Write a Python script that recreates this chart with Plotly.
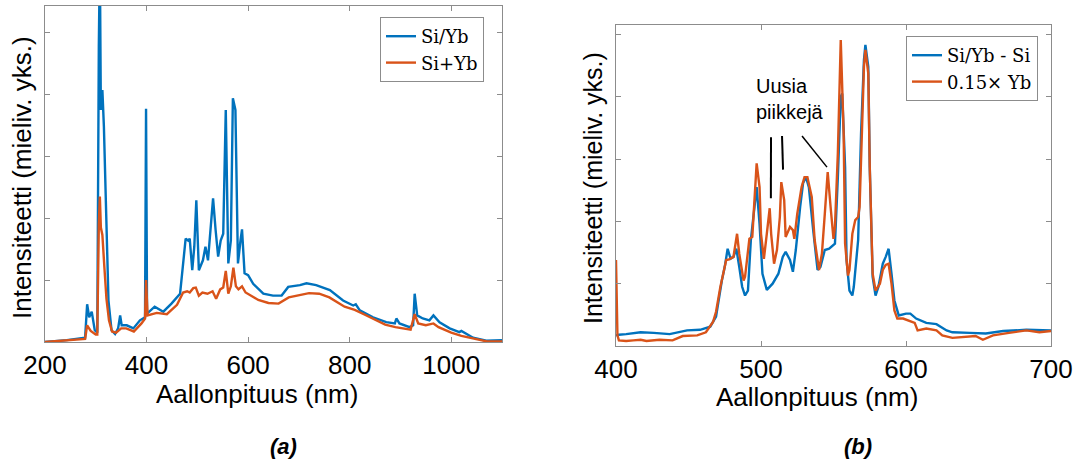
import plotly.graph_objects as go

# ---------------- Panel (a) data ----------------
a_blue_x = [200, 243, 279, 283, 287, 292, 298, 303, 306, 308, 310, 313, 316, 320, 325, 331, 338, 344, 348, 351,
            361, 374, 387, 397, 399, 401, 416, 433, 449, 466, 472, 477, 482, 485, 490, 494, 498, 503, 511, 516,
            521, 526, 531, 536, 541, 546, 551, 556, 561, 566, 570, 575, 580, 585, 588, 593, 600, 610, 630, 649,
            666, 679, 702, 715, 734, 761, 787, 807, 812, 820, 846, 872, 889, 892, 898, 918, 925, 928, 933, 944,
            957, 965, 977, 997, 1016, 1020, 1043, 1069, 1089, 1100]
a_blue_y = [0.0, 0.03, 0.07, 0.61, 0.40, 0.49, 0.19, 0.15, 4.77, 6.2, 3.75, 4.07, 3.48, 2.02, 0.67, 0.19, 0.13, 0.22, 0.43, 0.27,
            0.27, 0.22, 0.35, 0.40, 3.77, 0.46, 0.57, 0.49, 0.62, 0.78, 1.27, 1.67, 1.64, 1.67, 1.16, 1.54, 2.29, 1.16, 1.32, 1.54,
            1.32, 1.86, 2.32, 1.81, 1.38, 1.64, 1.75, 3.75, 1.27, 1.64, 3.94, 3.75, 1.27, 1.64, 1.82, 1.11, 1.08, 0.94, 0.78, 0.75,
            0.75, 0.89, 0.92, 0.95, 0.92, 0.84, 0.67, 0.59, 0.61, 0.51, 0.40, 0.32, 0.30, 0.38, 0.30, 0.24, 0.27, 0.78, 0.43, 0.38,
            0.35, 0.43, 0.32, 0.22, 0.16, 0.18, 0.07, 0.02, 0.02, 0.03]

a_orange_x = [200, 243, 279, 283, 290, 300, 303, 306, 308, 310, 313, 317, 321, 326, 332, 340, 350, 360, 375, 390,
              397, 399, 402, 420, 440, 460, 472, 480, 485, 492, 497, 503, 510, 520, 530, 537, 545, 551, 556, 561,
              566, 571, 576, 581, 588, 595, 605, 620, 640, 660, 680, 700, 720, 740, 760, 790, 810, 830, 850, 870,
              890, 920, 928, 935, 950, 965, 975, 1000, 1020, 1045, 1070, 1100]
a_orange_y = [0.0, 0.03, 0.05, 0.27, 0.18, 0.12, 0.12, 1.90, 2.35, 1.85, 1.73, 1.20, 0.70, 0.35, 0.17, 0.15, 0.22, 0.22, 0.17, 0.30,
              0.38, 1.00, 0.43, 0.47, 0.45, 0.60, 0.80, 0.82, 0.80, 0.87, 0.88, 0.75, 0.80, 0.78, 0.82, 0.70, 0.85, 0.88, 1.15, 0.78,
              0.90, 1.20, 0.90, 0.85, 0.90, 0.80, 0.75, 0.68, 0.63, 0.62, 0.72, 0.75, 0.79, 0.78, 0.72, 0.57, 0.52, 0.44, 0.36, 0.28,
              0.24, 0.20, 0.45, 0.30, 0.27, 0.30, 0.24, 0.15, 0.10, 0.05, 0.01, 0.01]

# ---------------- Panel (b) data ----------------
b_blue_x = [400, 402, 407, 417, 426, 437, 449, 458, 465, 469, 473, 475, 477, 479, 481, 483, 485, 487, 489, 491,
            493, 496, 497, 499, 501, 504, 508, 512, 515, 517, 520, 522, 524, 527, 529, 531, 533, 536, 539, 541,
            544, 547, 551, 553, 555, 556, 558, 559, 561, 563, 564, 567, 569, 571, 572, 574, 575, 577, 579, 581,
            584, 586, 588, 590, 592, 595, 600, 603, 607, 614, 621, 628, 632, 644, 655, 667, 683, 700]
b_blue_y = [0.17, 0.18, 0.19, 0.22, 0.21, 0.19, 0.25, 0.26, 0.31, 0.47, 1.05, 1.27, 1.56, 1.40, 1.43, 1.56, 1.27, 0.95, 0.81, 0.89,
            1.70, 2.34, 2.55, 1.96, 1.16, 0.90, 1.00, 1.16, 1.43, 1.51, 1.38, 1.19, 1.54, 2.23, 2.61, 2.71, 2.55, 1.86, 1.22, 1.27,
            1.54, 1.56, 1.64, 2.71, 4.00, 4.05, 2.87, 1.38, 0.89, 0.81, 0.95, 1.70, 3.41, 4.59, 4.83, 4.48, 2.87, 1.11, 0.81, 0.95,
            1.32, 1.43, 1.56, 1.16, 0.73, 0.49, 0.52, 0.52, 0.44, 0.37, 0.35, 0.25, 0.22, 0.21, 0.20, 0.24, 0.26, 0.25]

b_orange_x = [400, 401, 402, 407, 412, 417, 421, 430, 439, 446, 456, 462, 467, 469, 472, 474, 476, 478, 481, 483.5,
              485, 488, 489, 492, 494, 497, 499, 500, 502, 504, 506, 507, 509, 511, 513, 514, 516, 517, 520, 522,
              523, 525, 528, 530, 532, 535, 537, 540, 542, 544, 546, 548, 550, 551, 553, 555, 557, 558, 560, 561,
              563, 565, 567, 568, 570, 571, 572, 574, 575, 577, 579, 582, 584, 586, 588, 590, 592, 594, 598, 602,
              606, 608, 614, 621, 625, 632, 639, 648, 653, 660, 671, 683, 692, 700]
b_orange_y = [1.38, 0.17, 0.09, 0.08, 0.09, 0.10, 0.08, 0.10, 0.09, 0.16, 0.17, 0.22, 0.39, 0.55, 0.95, 1.16, 1.38, 1.39, 1.43, 1.80,
              1.48, 1.05, 1.11, 1.72, 1.75, 2.93, 2.55, 1.80, 1.40, 1.80, 2.21, 1.80, 1.32, 1.54, 2.07, 2.63, 2.34, 1.75, 1.91, 1.86,
              1.72, 2.12, 2.55, 2.71, 2.71, 2.39, 1.70, 1.22, 1.48, 2.12, 2.79, 2.23, 1.72, 1.91, 3.09, 4.91, 3.41, 1.64, 1.13, 1.22,
              1.80, 2.02, 2.07, 2.23, 3.52, 4.48, 4.75, 4.37, 2.87, 1.16, 0.89, 1.00, 1.22, 1.30, 1.32, 1.00, 0.57, 0.44, 0.44, 0.41,
              0.37, 0.25, 0.28, 0.25, 0.17, 0.13, 0.14, 0.16, 0.10, 0.17, 0.21, 0.25, 0.22, 0.24]

a_ticks = [200, 400, 600, 800, 1000]
b_ticks = [400, 500, 600, 700]
y_ticks = [0, 1, 2, 3, 4, 5]

BLUE = "#0072BD"
ORANGE = "#D95319"
W, H = 1073, 466

fig = go.Figure()
fig.add_trace(go.Scatter(x=a_blue_x, y=a_blue_y, mode="lines", name="Si/Yb",
                         line=dict(color=BLUE, width=2.4), xaxis="x", yaxis="y", legend="legend"))
fig.add_trace(go.Scatter(x=a_orange_x, y=a_orange_y, mode="lines", name="Si+Yb",
                         line=dict(color=ORANGE, width=2.4), xaxis="x", yaxis="y", legend="legend"))
fig.add_trace(go.Scatter(x=b_blue_x, y=b_blue_y, mode="lines", name="Si/Yb - Si",
                         line=dict(color=BLUE, width=2.4), xaxis="x2", yaxis="y2", legend="legend2"))
fig.add_trace(go.Scatter(x=b_orange_x, y=b_orange_y, mode="lines", name="0.15× Yb",
                         line=dict(color=ORANGE, width=2.4), xaxis="x2", yaxis="y2", legend="legend2"))

def px(v):
    return v / W

def py(v):
    return 1 - v / H

axis_common = dict(showgrid=False, zeroline=False, showline=True, linecolor="#8c8c8c", linewidth=1,
                   mirror="ticks", ticks="inside", ticklen=5, tickcolor="#8c8c8c", automargin=False,
                   tickfont=dict(family="Liberation Sans, Arial", size=26, color="black"))

legend_font = dict(family="DejaVu Serif, Liberation Serif", size=18, color="black")

fig.update_layout(
    template="none",
    width=W, height=H, margin=dict(l=0, r=0, t=0, b=0, pad=0, autoexpand=False),
    paper_bgcolor="white", plot_bgcolor="white",
    xaxis=dict(domain=[px(45), px(502)], range=[200, 1100], tickvals=a_ticks, anchor="y", **axis_common),
    yaxis=dict(domain=[py(342), py(6)], range=[0, 5.43], tickvals=y_ticks, showticklabels=False,
               anchor="x", **axis_common),
    xaxis2=dict(domain=[px(616), px(1051)], range=[400, 700], tickvals=b_ticks, anchor="y2", **axis_common),
    yaxis2=dict(domain=[py(346), py(25)], range=[0, 5.15], tickvals=y_ticks, showticklabels=False,
                anchor="x2", **axis_common),
    legend=dict(x=px(380), y=py(17), xanchor="left", yanchor="top", bgcolor="white",
                bordercolor="#8c8c8c", borderwidth=1, tracegroupgap=0, font=legend_font),
    legend2=dict(x=px(906), y=py(36), xanchor="left", yanchor="top", bgcolor="white",
                 bordercolor="#8c8c8c", borderwidth=1, tracegroupgap=0, font=legend_font),
    showlegend=True,
)

sans = "Liberation Sans, Arial"
ann = [
    dict(text="Aallonpituus (nm)", x=px(257), y=py(394), xref="paper", yref="paper", showarrow=False,
         xanchor="center", yanchor="middle", font=dict(family=sans, size=26, color="black")),
    dict(text="Aallonpituus (nm)", x=px(817), y=py(397), xref="paper", yref="paper", showarrow=False,
         xanchor="center", yanchor="middle", font=dict(family=sans, size=26, color="black")),
    dict(text="Intensiteetti (mieliv. yks.)", x=px(22), y=py(178), xref="paper", yref="paper", showarrow=False,
         textangle=-90, xanchor="center", yanchor="middle", font=dict(family=sans, size=26, color="black")),
    dict(text="Intensiteetti (mieliv. yks.)", x=px(593), y=py(188), xref="paper", yref="paper", showarrow=False,
         textangle=-90, xanchor="center", yanchor="middle", font=dict(family=sans, size=25, color="black")),
    dict(text="<b><i>(a)</i></b>", x=px(283), y=py(446), xref="paper", yref="paper", showarrow=False,
         xanchor="center", yanchor="middle", font=dict(family=sans, size=22, color="black")),
    dict(text="<b><i>(b)</i></b>", x=px(858), y=py(446), xref="paper", yref="paper", showarrow=False,
         xanchor="center", yanchor="middle", font=dict(family=sans, size=22, color="black")),
    dict(text="Uusia<br>piikkejä", x=495.5, y=3.96, xref="x2", yref="y2", showarrow=False,
         xanchor="left", yanchor="middle", align="left", font=dict(family=sans, size=20, color="black")),
]
fig.update_layout(annotations=ann)

shapes = [
    dict(type="line", xref="x2", yref="y2", x0=506.9, y0=3.35, x1=506.8, y1=2.37, line=dict(color="black", width=2)),
    dict(type="line", xref="x2", yref="y2", x0=514.5, y0=3.37, x1=515.2, y1=2.83, line=dict(color="black", width=2)),
    dict(type="line", xref="x2", yref="y2", x0=528.3, y0=3.37, x1=545.5, y1=2.87, line=dict(color="black", width=1.5)),
]
fig.update_layout(shapes=shapes)

fig.write_html("out.html")
